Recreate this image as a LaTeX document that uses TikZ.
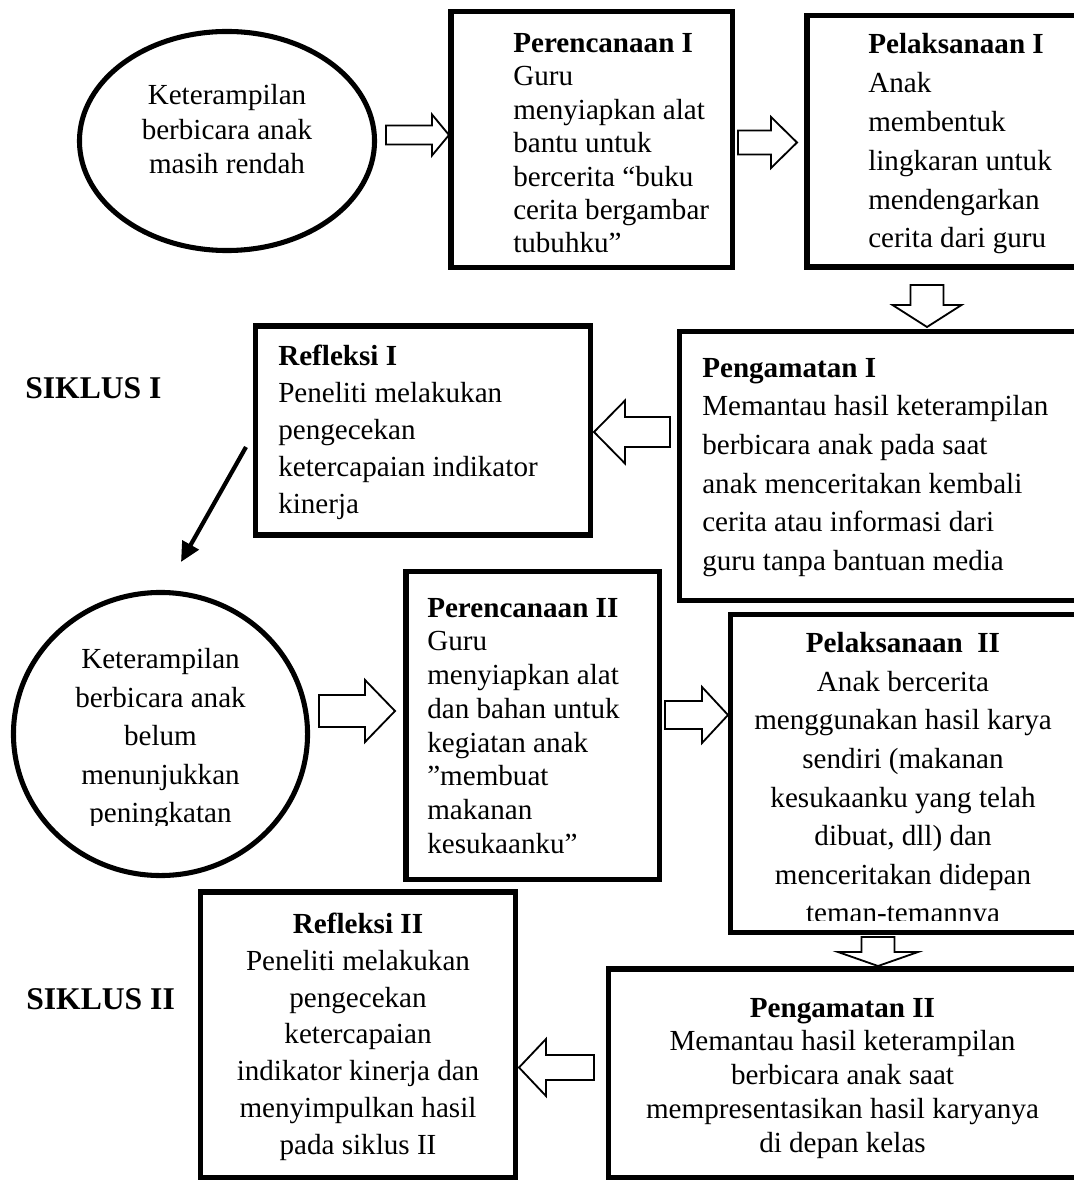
\documentclass[tikz,border=0pt]{standalone}
\usepackage{fontspec}
\setmainfont{Liberation Serif}
\usetikzlibrary{shapes.geometric, arrows.meta}

% hollow block arrow: tip, angle, length, head length, shaft half width, head half width
\newcommand{\blkarr}[6]{%
  \draw[blk, shift={(#1)}, rotate=#2]
    (0,0) -- (-#4,#6) -- (-#4,#5) -- (-#3,#5) -- (-#3,-#5)
    -- (-#4,-#5) -- (-#4,-#6) -- cycle;}

\begin{document}
\begin{tikzpicture}[
  x=0.025cm, y=-0.025cm,
  box/.style={draw, rectangle, line width=3.6pt, inner sep=0pt},
  oval/.style={draw, ellipse, line width=3.6pt, inner sep=0pt},
  txt/.style={inner sep=0pt, font=\fontsize{20.7pt}{#1}\selectfont},
  hd/.style={inner sep=0pt, anchor=base west, font=\fontsize{22.5pt}{27pt}\selectfont\bfseries},
  blk/.style={draw, fill=white, line width=1.3pt, line join=miter},
  diag/.style={line width=3pt, -{Triangle[length=14pt, width=13pt]}}
]
\useasboundingbox (0,0) rectangle (1073,1181);

%% ── Siklus I ─────────────────────────────────────────────────
\node[oval, minimum width=7.375cm, minimum height=5.475cm] (e1) at (227,141) {};
\node[txt=24.2pt, align=center, anchor=north] (e1t) at (227,84.5)
  {Keterampilan\\berbicara anak\\masih rendah};

\node[box, minimum width=7.025cm, minimum height=6.375cm] (p1) at (591.5,139.5) {};
\node[txt=23.8pt, align=left, anchor=north west] (p1t) at (513,32.8)
  {\textbf{Perencanaan I}\\Guru\\menyiapkan alat\\bantu untuk\\bercerita “buku\\cerita bergambar\\tubuhku”};

\node[box, minimum width=7.575cm, minimum height=6.275cm] (pl1) at (958.5,141.5) {};
\node[txt=27.6pt, align=left, anchor=north west] (pl1t) at (868,33.4)
  {\textbf{Pelaksanaan I}\\Anak\\membentuk\\lingkaran untuk\\mendengarkan\\cerita dari guru};

\node[box, minimum width=10.75cm, minimum height=6.7cm] (g1) at (895,466) {};
\node[txt=27.5pt, align=left, anchor=north west] (g1t) at (702,357.8)
  {\textbf{Pengamatan I}\\Memantau hasil keterampilan\\berbicara anak pada saat\\anak menceritakan kembali\\cerita atau informasi dari\\guru tanpa bantuan media};

\node[box, minimum width=8.35cm, minimum height=5.225cm] (r1) at (423,430.5) {};
\node[txt=26.3pt, align=left, anchor=north west] (r1t) at (278,345.2)
  {\textbf{Refleksi I}\\Peneliti melakukan\\pengecekan\\ketercapaian indikator\\kinerja};

\node[hd] (s1) at (25,398) {SIKLUS I};

%% ── Siklus II ────────────────────────────────────────────────
\node[oval, minimum width=7.35cm, minimum height=7.075cm] (e2) at (160.5,734) {};
\begin{scope}
  \clip (0,560) rectangle (400,825);
  \node[txt=27.4pt, align=center, anchor=north] (e2t) at (160.5,648.3)
    {Keterampilan\\berbicara anak\\belum\\menunjukkan\\peningkatan};
\end{scope}

\node[box, minimum width=6.325cm, minimum height=7.675cm] (p2) at (532.5,725.5) {};
\node[txt=24pt, align=left, anchor=north west] (p2t) at (427,597.8)
  {\textbf{Perencanaan II}\\Guru\\menyiapkan alat\\dan bahan untuk\\kegiatan anak\\”membuat\\makanan\\kesukaanku”};

\node[box, minimum width=9.475cm, minimum height=7.925cm] (pl2) at (920.5,773.5) {};
\begin{scope}
  \clip (700,600) rectangle (1073,920);
  \node[txt=27.4pt, align=center, anchor=north] (pl2t) at (903,632.4)
    {\textbf{Pelaksanaan\ \ II}\\Anak bercerita\\menggunakan hasil karya\\sendiri (makanan\\kesukaanku yang telah\\dibuat, dll) dan\\menceritakan didepan\\teman-temannya};
\end{scope}

\node[box, minimum width=12.525cm, minimum height=5.2cm] (g2) at (859.5,1073) {};
\node[txt=24pt, align=center, anchor=north] (g2t) at (842.5,997.8)
  {\textbf{Pengamatan II}\\Memantau hasil keterampilan\\berbicara anak saat\\mempresentasikan hasil karyanya\\di depan kelas};

\node[box, minimum width=7.85cm, minimum height=7.125cm] (r2) at (358,1034.5) {};
\node[txt=26.1pt, align=center, anchor=north] (r2t) at (358,913)
  {\textbf{Refleksi II}\\Peneliti melakukan\\pengecekan\\ketercapaian\\indikator kinerja dan\\menyimpulkan hasil\\pada siklus II};

\node[hd] (s2) at (26,1009) {SIKLUS II};

%% ── Block arrows ─────────────────────────────────────────────
\coordinate (a1) at (449,135);
\coordinate (a2) at (797,142.5);
\coordinate (a3) at (594,432);
\coordinate (a4) at (395,711);
\coordinate (a5) at (728,715);
\coordinate (a6) at (519,1067.5);
\coordinate (d1) at (927,327);
\coordinate (d2) at (878,966);

\blkarr{a1}{0}{63}{17}{9.5}{20.5}
\blkarr{a2}{0}{59}{26}{12}{25.5}
\blkarr{a3}{180}{76}{31}{15}{31.5}
\blkarr{a4}{0}{76}{30}{16}{31}
\blkarr{a5}{0}{63}{26}{14}{28}
\blkarr{a6}{180}{75}{27}{12.5}{28.5}
\blkarr{d1}{-90}{42}{22}{16.5}{34.5}
\blkarr{d2}{-90}{29}{14}{16.5}{40}

%% ── Refleksi I to next cycle ─────────────────────────────────
\coordinate (q1) at (246,447);
\coordinate (q2) at (181,562);
\draw[diag] (q1) -- (q2);

\end{tikzpicture}
\end{document}
